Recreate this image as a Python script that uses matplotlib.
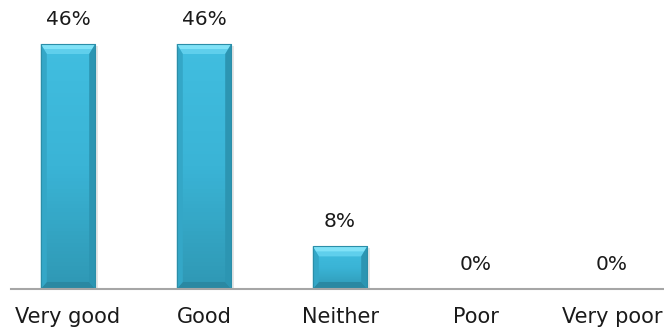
import numpy as np
import matplotlib
matplotlib.use("Agg")
import matplotlib.pyplot as plt
from matplotlib.patches import Polygon

categories = ["Very good", "Good", "Neither", "Poor", "Very poor"]
values = [46, 46, 8, 0, 0]
labels = ["46%", "46%", "8%", "0%", "0%"]

fig = plt.figure(figsize=(6.64, 3.32), dpi=100)
ax = fig.add_axes([11 / 664, 43 / 332, 653 / 664, 289 / 332])
ax.set_xlim(-0.419, 4.382)
ax.set_ylim(0, 54.26)

x = np.arange(len(categories))
bar_w = 0.40
bars = ax.bar(x, values, width=bar_w, color="#3bb6d8", zorder=2)

# pixel -> data conversion for the bevel sizes
px_x = 1 / 136
px_y = 54.26 / 289

grad = np.linspace(0, 1, 64).reshape(-1, 1)
cmap = matplotlib.colors.LinearSegmentedColormap.from_list(
    "bar", ["#2f98b4", "#3ab4d6", "#41bee0"])

for b in bars:
    x0, y0 = b.get_x(), b.get_y()
    w, h = b.get_width(), b.get_height()
    if h <= 0:
        continue
    x1, y1 = x0 + w, y0 + h
    # soft shadow on the right side
    ax.add_patch(plt.Rectangle((x1, y0), 3 * px_x, h - 2 * px_y,
                               color="#d4d4d4", alpha=0.6, zorder=1, lw=0))
    im = ax.imshow(grad, extent=[x0, x1, y0, y1], origin="lower",
                   cmap=cmap, aspect="auto", zorder=3)
    im.set_clip_path(b)
    bx, by_top, by_bot = 6 * px_x, 10 * px_y, 7 * px_y
    bx = min(bx, w / 4)
    by_top = min(by_top, h / 3)
    by_bot = min(by_bot, h / 4)
    # top bevel, bright strip at the very top
    ax.add_patch(Polygon([(x0, y1), (x1, y1), (x1 - bx, y1 - by_top),
                          (x0 + bx, y1 - by_top)],
                         color="#5fcfec", lw=0, zorder=4))
    ax.add_patch(Polygon([(x0, y1), (x1, y1), (x1 - bx / 2, y1 - by_top / 2),
                          (x0 + bx / 2, y1 - by_top / 2)],
                         color="#80e2f7", lw=0, zorder=4))
    # bottom bevel
    ax.add_patch(Polygon([(x0, y0), (x1, y0), (x1 - bx, y0 + by_bot),
                          (x0 + bx, y0 + by_bot)],
                         color="#2a88a2", lw=0, zorder=4))
    # side bevels
    ax.add_patch(Polygon([(x0, y0), (x0 + bx, y0 + by_bot),
                          (x0 + bx, y1 - by_top), (x0, y1)],
                         color="#34a7c7", lw=0, zorder=4))
    ax.add_patch(Polygon([(x1, y0), (x1 - bx, y0 + by_bot),
                          (x1 - bx, y1 - by_top), (x1, y1)],
                         color="#2c95b2", lw=0, zorder=4))
    ax.add_patch(plt.Rectangle((x0, y0), w, h, fill=False,
                               ec="#2b8ea8", lw=0.8, zorder=5))

for xi, v, lab in zip(x, values, labels):
    ax.annotate(lab, (xi, v), xytext=(0, 11), textcoords="offset points",
                ha="center", va="bottom", fontsize=14.5, color="#1a1a1a",
                family="DejaVu Sans")

ax.set_xticks(x)
ax.set_xticklabels(categories, fontsize=15, color="#1a1a1a")
ax.tick_params(axis="x", length=0, pad=13)
ax.set_yticks([])
for side in ["top", "right", "left"]:
    ax.spines[side].set_visible(False)
ax.spines["bottom"].set_color("#a6a6a6")
ax.spines["bottom"].set_linewidth(1.5)
ax.spines["bottom"].set_zorder(6)

fig.savefig("out.png", dpi=100)
